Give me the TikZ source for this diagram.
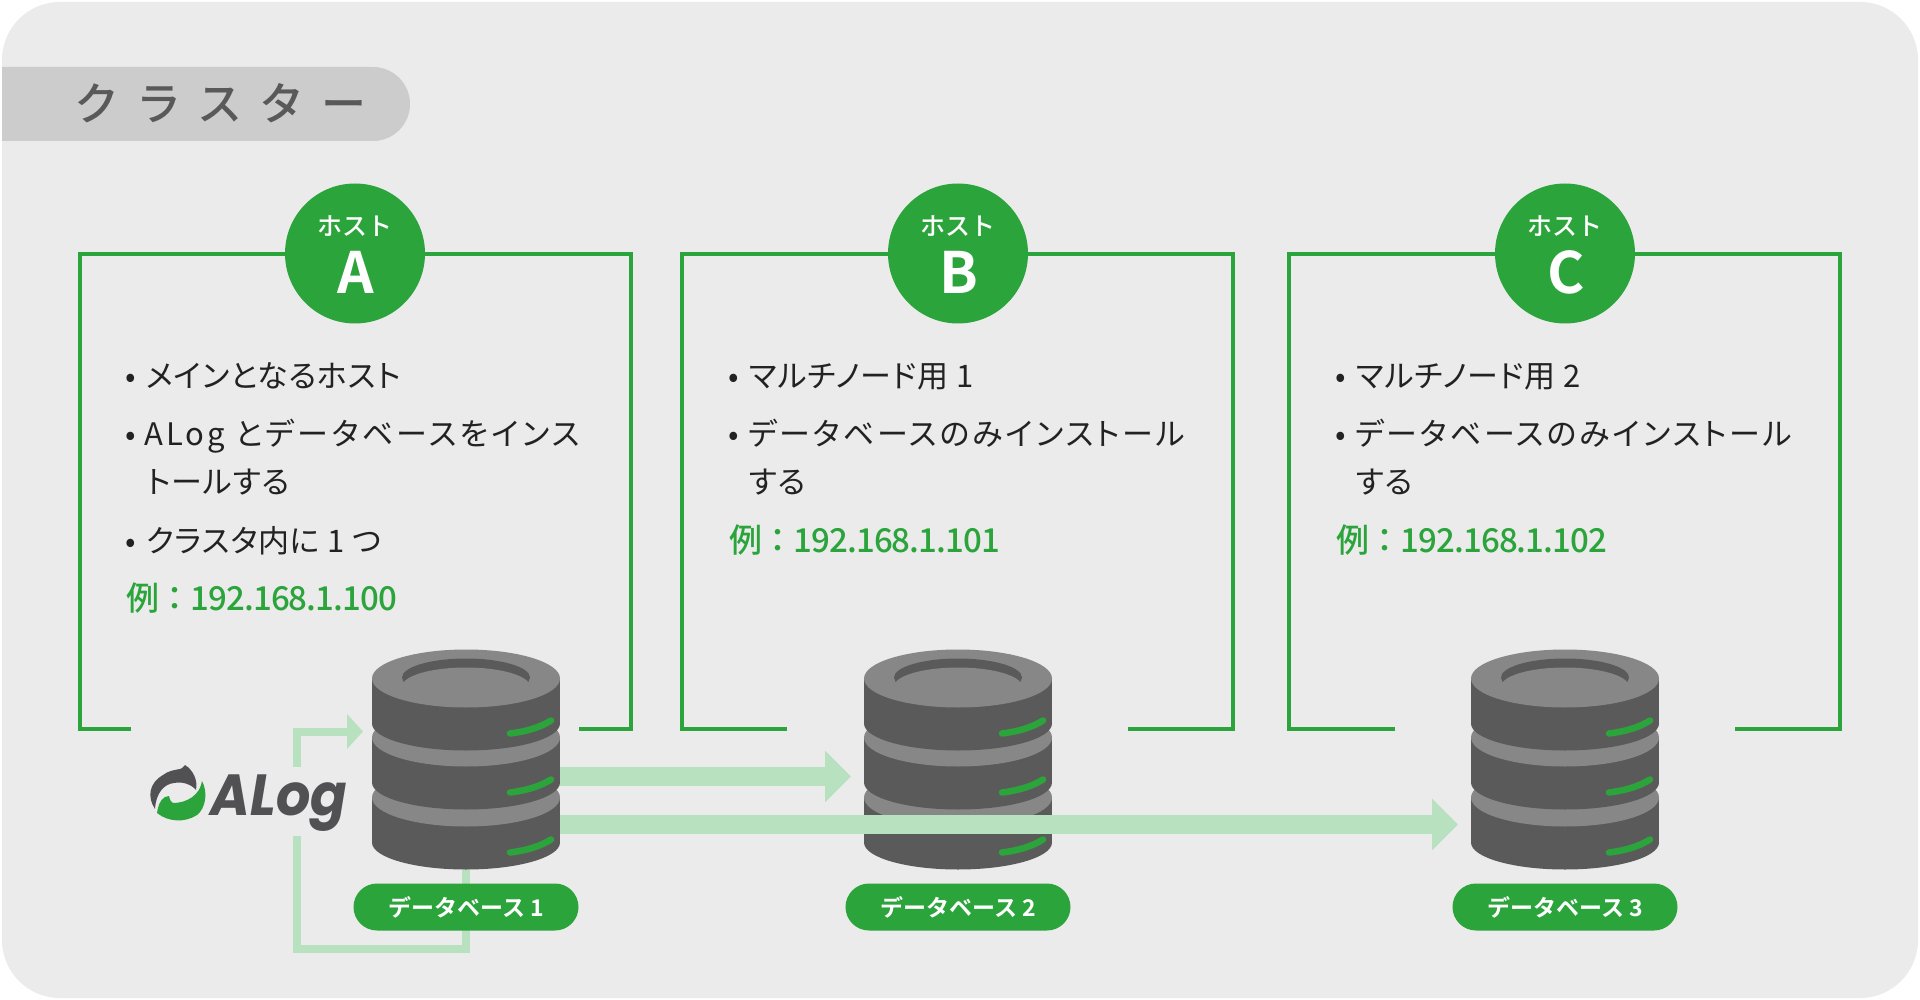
\documentclass[tikz,border=0pt]{standalone}
\usepackage{fontspec}
\usetikzlibrary{arrows.meta}
\setmainfont{Noto Sans CJK JP}
\newfontfamily\bodyfont[RawFeature=+palt,LetterSpace=2.5]{Noto Sans CJK JP}
\newfontfamily\widefont[RawFeature=+palt,LetterSpace=9]{Noto Sans CJK JP}
\newfontfamily\wideafont[RawFeature=+palt,LetterSpace=10.2]{Noto Sans CJK JP}
\newfontfamily\medfont[LetterSpace=-2.7]{Noto Sans CJK JP Medium}
\newfontfamily\wordfont{Noto Sans CJK JP Medium}
\newfontfamily\titlefont[LetterSpace=38]{Noto Sans CJK JP Medium}
\newfontfamily\boldfont{Noto Sans CJK JP Bold}
\newfontfamily\logofont{Poppins Bold Italic}
\definecolor{bggrey}{HTML}{EBEBEB}
\definecolor{tabgrey}{HTML}{CCCCCC}
\definecolor{titlegrey}{HTML}{595959}
\definecolor{hostgreen}{HTML}{2CA43C}
\definecolor{palegreen}{HTML}{B7E1BF}
\definecolor{dbdark}{HTML}{5A5A5A}
\definecolor{dblight}{HTML}{878787}
\definecolor{logogrey}{HTML}{515154}
\definecolor{bodyink}{HTML}{222222}
\tikzset{
  x=1pt,y=-1pt,
  hostframe/.style={draw=hostgreen,line width=4pt,line join=miter},
  hostdisc/.style={circle,fill=hostgreen,minimum size=140pt,inner sep=0pt},
  bodyline/.style={anchor=base west,inner sep=0pt,text=bodyink,font=\fontsize{31}{34}\bodyfont},
  wideline/.style={anchor=base west,inner sep=0pt,text=bodyink,font=\fontsize{31}{34}\widefont},
  widealine/.style={anchor=base west,inner sep=0pt,text=bodyink,font=\fontsize{31}{34}\wideafont},
  bulletdot/.style={anchor=base,inner sep=0pt,text=bodyink,font=\fontsize{31}{34}\bodyfont},
  exampleline/.style={anchor=base west,inner sep=0pt,text=hostgreen,font=\fontsize{33}{36}\medfont},
  hostword/.style={anchor=base,inner sep=0pt,text=white,font=\fontsize{25}{28}\wordfont},
  hostletter/.style={anchor=base,inner sep=0pt,text=white,font=\fontsize{57}{60}\boldfont},
  dbpill/.style={rectangle,rounded corners=23.5pt,fill=hostgreen,minimum width=225pt,minimum height=47pt,inner sep=0pt,text=white,font=\fontsize{23}{28}\boldfont},
  dbanchor/.style={rectangle,minimum width=188pt,minimum height=218pt,inner sep=0pt},
  bigflow/.style={draw=palegreen,line width=19pt,-{Triangle[length=26pt,width=50pt,fill=palegreen]}},
  thinflow/.style={draw=palegreen,line width=8pt,line join=miter},
  thinhead/.style={draw=palegreen,line width=8pt,line join=miter,-{Triangle[length=16pt,width=34pt,fill=palegreen]}},
  ledline/.style={draw=hostgreen,line width=6.5pt,line cap=round}
}
\newcommand{\dbdisc}[2]{% cx, top ellipse centre y
  \fill[dbdark] (#1-94,#2) rectangle (#1+94,#2+45);
  \fill[dbdark] (#1,#2+45) ellipse [x radius=94pt,y radius=27pt];
  \fill[dblight] (#1,#2) ellipse [x radius=94pt,y radius=29pt];
  \draw[ledline] (#1+44,#2+55) .. controls (#1+60,#2+53) and (#1+74,#2+49) .. (#1+85,#2+42);
}
\newcommand{\dbstack}[1]{%
  \dbdisc{#1}{797.5}
  \dbdisc{#1}{737.5}
  \dbdisc{#1}{678.5}
  \fill[dbdark] (#1,677.5) ellipse [x radius=64pt,y radius=19pt];
  \fill[dblight] (#1,686.5) ellipse [x radius=64pt,y radius=19pt];
}
\begin{document}
\begin{tikzpicture}
\useasboundingbox (0,0) rectangle (1920,1000);
\fill[white] (0,0) rectangle (1920,1000);
\fill[bggrey,rounded corners=58pt] (2,2) rectangle (1918,998);
% title tab
\begin{scope}
\clip (2,60) rectangle (420,150);
\fill[tabgrey,rounded corners=37pt] (-60,67) rectangle (410,141);
\end{scope}
\node[anchor=base west,inner sep=0pt,text=titlegrey,font=\fontsize{45}{50}\titlefont] (title) at (74,121) {クラスター};
% frames
\draw[hostframe] (131,729) -- (80,729) -- (80,254) -- (631,254) -- (631,729) -- (579,729);
\draw[hostframe] (787,729) -- (682,729) -- (682,254) -- (1233,254) -- (1233,729) -- (1128,729);
\draw[hostframe] (1395,729) -- (1289,729) -- (1289,254) -- (1840,254) -- (1840,729) -- (1735,729);
% host discs
\node[hostdisc] (hosta) at (355,253.5) {};
\node[hostdisc] (hostb) at (958,253.5) {};
\node[hostdisc] (hostc) at (1565,253.5) {};
\node[hostword] (hostawd) at (355,235.5) {ホスト};
\node[hostword] (hostbwd) at (958,235.5) {ホスト};
\node[hostword] (hostcwd) at (1565,235.5) {ホスト};
\node[hostletter] (hostal) at (356,294) {A};
\node[hostletter] (hostbl) at (959,294) {B};
\node[hostletter] (hostcl) at (1566,294) {C};
% host A text
\node[bulletdot] (a1b) at (131,387) {•};
\node[bodyline] (a1) at (146,387) {メインとなるホスト};
\node[bulletdot] (a2b) at (131,445) {•};
\node[widealine] (a2) at (144,445) {ALog とデータベースをインス};
\node[bodyline] (a3) at (147,493) {トールする};
\node[bulletdot] (a4b) at (131,552) {•};
\node[bodyline] (a4) at (146,552) {クラスタ内に 1 つ};
\node[exampleline] (a5) at (126,610) {例：192.168.1.100};
% host B text
\node[bulletdot] (b1b) at (734,387) {•};
\node[bodyline] (b1) at (749,387) {マルチノード用 1};
\node[bulletdot] (b2b) at (734,445) {•};
\node[wideline] (b2) at (748,445) {データベースのみインストール};
\node[bodyline] (b3) at (749,493) {する};
\node[exampleline] (b4) at (729,552) {例：192.168.1.101};
% host C text
\node[bulletdot] (c1b) at (1341,387) {•};
\node[bodyline] (c1) at (1356,387) {マルチノード用 2};
\node[bulletdot] (c2b) at (1341,445) {•};
\node[wideline] (c2) at (1355,445) {データベースのみインストール};
\node[bodyline] (c3) at (1356,493) {する};
\node[exampleline] (c4) at (1336,552) {例：192.168.1.102};
% anchors
\node[dbanchor] (dba) at (466,758) {};
\node[dbanchor] (dbb) at (958,758) {};
\node[dbanchor] (dbc) at (1565,758) {};
\coordinate (flowbstart) at (466,776.5);
\coordinate (flowbend) at (851,776.5);
\coordinate (flowcstart) at (466,824.5);
\coordinate (flowcend) at (1458,824.5);
\coordinate (loopin) at (363,731.5);
\coordinate (logotop) at (297,767);
\coordinate (logobottom) at (297,836);
\draw[bigflow] (flowbstart) -- (flowbend);
\dbstack{958}
\dbstack{1565}
\draw[bigflow] (flowcstart) -- (flowcend);
% loop
\draw[thinhead] (logotop) |- (loopin);
\draw[thinflow] (logobottom) |- (466,948.5) -- (dba.center);
\dbstack{466}
% pills
\node[dbpill] (pilla) at (466,907) {データベース 1};
\node[dbpill] (pillb) at (958,907) {データベース 2};
\node[dbpill] (pillc) at (1565,907) {データベース 3};
% logo
\fill[logogrey] (155,809) .. controls (147,797) and (149,783) .. (163,775)
  .. controls (168,771) and (174,770) .. (180,769) -- (182,768) -- (185,765)
  .. controls (193,770) and (198,780) .. (196,790)
  .. controls (192,785) and (183,781) .. (174,783)
  .. controls (164,784) and (156,793) .. (155,809) -- cycle;
\fill[hostgreen] (157,813) .. controls (158,806) and (160,800) .. (165,797) -- (169,796)
  .. controls (170,800) and (171,802) .. (173,803)
  .. controls (187,803) and (200,795) .. (202,781)
  .. controls (208,792) and (206,808) .. (197,815)
  .. controls (185,823) and (168,822) .. (157,813) -- cycle;
\node[anchor=base west,inner sep=0pt,text=logogrey,font=\fontsize{58}{60}\logofont] (alog) at (210.5,815.5) {\scalebox{0.93}[1]{ALog}};
\end{tikzpicture}
\end{document}
